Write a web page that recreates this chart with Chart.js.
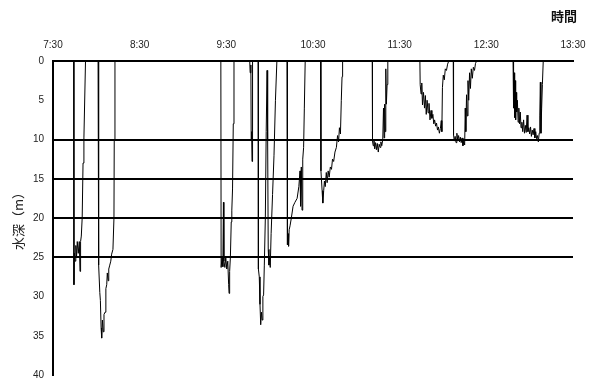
<!DOCTYPE html>
<html>
<head>
<meta charset="utf-8">
<script src="https://cdn.jsdelivr.net/npm/chart.js@4"></script>
<style>
  body { margin: 0; background: #fff; }
  #wrap { position: relative; width: 589px; height: 379px; }
  #timeLabel {
    position: absolute; left: 551px; top: 6px;
    font: bold 13px "Noto Sans CJK JP", sans-serif; color: #111;
  }
</style>
</head>
<body>
<div id="wrap">
  <canvas id="chart" width="589" height="379"></canvas>
  <div id="timeLabel">時間</div>
</div>
<script>
// 時間軸ラベル（7:30 からの分）
const timeTicks = [0, 60, 120, 180, 240, 300, 360];
const timeLabels = ['7:30', '8:30', '9:30', '10:30', '11:30', '12:30', '13:30'];
const depthTicks = [0, 5, 10, 15, 20, 25, 30, 35, 40];
const gridDepths = [0, 10, 15, 20, 25];

// 潜水ごとの [分, 水深m]
const dive1 = [[14.3,0],[14.5,28.5],[14.8,24.5],[15.3,25.5],[15.8,23.5],[16.3,25],[16.8,23],[17.5,24.5],[18.2,23],[18.7,26.8],[19.1,23],[19.6,22.3],[20.2,20],[20.8,13],[21.4,9.8],[22.5,0]];
const dive2 = [[31.2,0],[31.4,25.3],[31.8,26],[32.4,29.5],[32.8,30.5],[33.3,34],[33.7,35.3],[34.2,33],[34.8,34.5],[35.3,32.3],[36,32],[36.6,29],[37.2,28.5],[37.6,27],[38.2,28],[38.6,26.5],[39.3,26],[40,25.5],[40.6,24.6],[41.5,24],[42.2,20],[42.4,10],[42.9,0]];
const dive3 = [[116.2,0],[116.4,26.3],[117,25],[117.6,26.2],[118,18],[118.3,25.5],[119,26.3],[119.6,25],[120.3,26.5],[121,25.5],[121.6,28.5],[121.9,29.6],[122.3,26.8],[122.8,25],[123.4,20.5],[123.8,19],[124.3,16.3],[124.8,8],[125.3,0]];
const dive4 = [[136.2,0],[136.5,1.5],[137,0.5],[137.2,10],[137.5,9],[137.8,12.8],[138,12],[138.3,0]];
const dive5 = [[142,0],[142.2,26.5],[142.8,27.5],[143.3,31],[143.8,33.6],[144.3,32],[144.8,33],[145.3,30],[145.8,29.8],[146.3,26],[147,20],[147.6,9],[148.2,1.2],[148.6,10],[149,24],[149.5,26],[150,25],[150.4,26.3],[151,22],[152,17],[153,12],[154,5],[155,0]];
const dive6 = [[162,0],[162.3,23.4],[162.7,22],[163.1,23.6],[163.5,21.5],[164.1,21],[165,20],[166.2,18.5],[167.5,18],[169,17.5],[170.2,16],[171,14],[171.4,18.5],[171.9,13.5],[172.4,19],[172.9,12.5],[173.5,11],[174,6],[174.6,0]];
const dive7 = [[185.2,0],[185.5,14],[186.3,16.5],[186.8,18.1],[187.4,16.5],[187.9,15.3],[188.5,16],[189.2,14.2],[189.8,15.5],[190.5,14],[191.2,14.8],[192,13.5],[192.8,13.8],[193.5,12.5],[194.3,12.8],[195.2,11.6],[196.2,11],[197,9.5],[197.7,10.3],[198.3,8.5],[199,9.3],[199.6,5],[200.1,2],[200.5,0]];
const dive8 = [[221,0],[221.2,10.2],[221.7,10.8],[222.2,10],[222.7,11.2],[223.3,10.4],[223.9,11.3],[224.5,10.5],[225.2,11.6],[225.8,10.6],[226.4,11],[227,10.3],[227.6,10.8],[228.3,10],[228.8,6],[229.2,9.8],[229.6,5.5],[230,9],[230.4,1],[230.8,5.5],[231.3,3],[231.8,0]];
const dive9 = [[254,0],[254.2,3],[254.8,4.2],[255.3,2.8],[255.8,5.6],[256.5,4],[257.2,6],[257.8,4.4],[258.4,6.8],[259,5],[259.7,6.6],[260.3,5.4],[261,7.5],[261.7,6.3],[262.3,7.3],[263,6.8],[263.6,8],[264.2,7.5],[264.9,8.3],[265.5,7.9],[266.2,8.8],[266.8,8.4],[267.5,9.2],[268.2,8.6],[268.8,7.6],[269.2,9],[269.6,3.4],[270.2,1.8],[270.9,2.4],[271.6,1],[272.4,1.2],[273.2,0.4],[274,0]];
const dive10 = [[277.1,0],[277.3,9.4],[277.8,10.2],[278.4,9.6],[279,10.4],[279.6,9.2],[280.2,10.1],[280.8,9.5],[281.4,10.3],[282,9.7],[282.6,10.4],[283.2,9.8],[283.8,10.8],[284.4,10.2],[285,10.7],[285.4,6],[285.8,9],[286.3,4.3],[286.8,7],[287.3,2.5],[287.8,5],[288.4,1.5],[289,3.5],[289.6,1],[290.3,2.2],[291,0.8],[291.8,1.2],[292.5,0.3],[293.3,0]];
const dive11 = [[318.5,0],[318.7,1],[319,6],[319.3,1.5],[319.6,7.2],[320,2.5],[320.3,7.5],[320.7,4],[321,6.5],[321.5,5],[322,7.8],[322.5,6],[323,8],[323.5,6.5],[324,8.5],[324.6,7.8],[325.2,9],[325.8,7.5],[326.4,9.2],[327,8.2],[327.6,9.1],[328.2,6.9],[328.8,9],[329.4,8.5],[330,9.3],[330.6,8.4],[331.2,9.6],[331.8,8.8],[332.4,9.4],[333,8.6],[333.6,9.8],[334.2,9],[334.8,9.9],[335.4,9.5],[336,10.3],[336.6,9.2],[337,7],[337.4,2.7],[337.8,9.2],[338.3,6],[338.8,3],[339.4,0]];

// 全潜水をつないで一本の線にする
const profile = [[0,0]]
  .concat(dive1, dive2, dive3, dive4, dive5, dive6, dive7, dive8, dive9, dive10, dive11, [[360,0]])
  .map(p => ({ x: p[0], y: p[1] }));

const tickFont = { family: '"Liberation Sans", Arial, sans-serif', size: 10 };

new Chart(document.getElementById('chart'), {
  type: 'line',
  data: {
    datasets: [{
      data: profile,
      borderColor: '#000',
      borderWidth: 1,
      pointRadius: 0,
      tension: 0
    }]
  },
  options: {
    responsive: false,
    animation: false,
    layout: { padding: { left: 0, right: 16, top: 0, bottom: 4 } },
    plugins: { legend: { display: false }, tooltip: { enabled: false } },
    scales: {
      x: {
        type: 'linear',
        position: 'top',
        min: 0,
        max: 360,
        afterBuildTicks: s => { s.ticks = timeTicks.map(v => ({ value: v })); },
        afterFit: s => { s.height = 61; s.paddingLeft = 0; s.paddingRight = 0; },
        ticks: {
          color: '#222',
          font: tickFont,
          padding: 10,
          maxRotation: 0,
          callback: v => timeLabels[timeTicks.indexOf(v)]
        },
        grid: { display: false, drawTicks: false },
        border: { display: true, color: '#000', width: 2 }
      },
      y: {
        reverse: true,
        min: 0,
        max: 40,
        afterBuildTicks: s => { s.ticks = depthTicks.map(v => ({ value: v })); },
        afterFit: s => { s.width = 53; s.paddingTop = 0; s.paddingBottom = 0; },
        ticks: { color: '#222', font: tickFont, padding: 9 },
        grid: {
          drawTicks: false,
          lineWidth: 2,
          color: c => gridDepths.includes(c.tick.value) ? '#000' : 'rgba(0,0,0,0)'
        },
        border: { display: true, color: '#000', width: 2 },
        title: {
          display: true,
          text: '水深（m）',
          color: '#222',
          font: { family: '"Noto Sans CJK JP", sans-serif', size: 13 },
          padding: { top: 10, bottom: 0 }
        }
      }
    }
  }
});
</script>
</body>
</html>
